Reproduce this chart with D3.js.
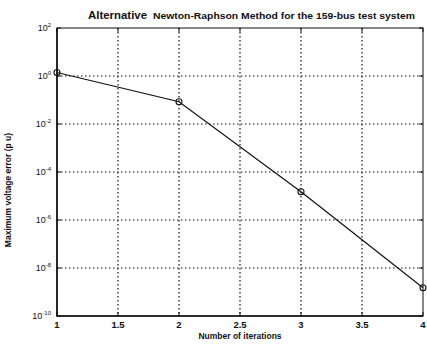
<!DOCTYPE html>
<html>
<head>
<meta charset="utf-8">
<script src="https://cdn.jsdelivr.net/npm/d3@7"></script>
<style>
  html, body { margin: 0; padding: 0; background: #fff; }
  svg { display: block; font-family: "Liberation Sans", Arial, sans-serif; }
</style>
</head>
<body>
<svg id="chart" width="427" height="344"></svg>
<script>
// Convergence of the alternative Newton-Raphson solver, 159-bus system
const iterations = [1, 2, 3, 4];
const maxError = [1.4, 0.085, 1.5e-5, 1.5e-9];
const xTicks = [1, 1.5, 2, 2.5, 3, 3.5, 4];
const xTickLabels = ["1", "1.5", "2", "2.5", "3", "3.5", "4"];
const yExponents = [2, 0, -2, -4, -6, -8, -10];

const svg = d3.select("#chart");
const margin = { left: 57, right: 4, top: 28, bottom: 28 };
const W = 427, H = 344;

const x = d3.scaleLinear().domain([1, 4]).range([margin.left, W - margin.right]);
const y = d3.scaleLog().domain([1e-10, 1e2]).range([H - margin.bottom, margin.top]);

const ink = "#111";

// grid
const grid = svg.append("g").attr("stroke", ink).attr("stroke-width", 1.2)
  .attr("stroke-dasharray", "1.5,2.5");
xTicks.slice(1, -1).forEach(t => {
  grid.append("line").attr("x1", x(t)).attr("x2", x(t))
    .attr("y1", y.range()[1]).attr("y2", y.range()[0]);
});
yExponents.slice(1, -1).forEach(e => {
  grid.append("line").attr("y1", y(Math.pow(10, e))).attr("y2", y(Math.pow(10, e)))
    .attr("x1", x.range()[0]).attr("x2", x.range()[1]);
});

// frame
svg.append("rect")
  .attr("x", x.range()[0]).attr("y", y.range()[1])
  .attr("width", x.range()[1] - x.range()[0])
  .attr("height", y.range()[0] - y.range()[1])
  .attr("fill", "none").attr("stroke", ink).attr("stroke-width", 1);
svg.append("path")
  .attr("d", `M${x.range()[0]},${y.range()[1]}V${y.range()[0]}H${x.range()[1]}`)
  .attr("fill", "none").attr("stroke", ink).attr("stroke-width", 1.6);

// inward ticks
const ticks = svg.append("g").attr("stroke", ink).attr("stroke-width", 1);
xTicks.forEach(t => {
  ticks.append("line").attr("x1", x(t)).attr("x2", x(t))
    .attr("y1", y.range()[0]).attr("y2", y.range()[0] - 4);
  ticks.append("line").attr("x1", x(t)).attr("x2", x(t))
    .attr("y1", y.range()[1]).attr("y2", y.range()[1] + 4);
});
yExponents.forEach(e => {
  const yy = y(Math.pow(10, e));
  ticks.append("line").attr("x1", x.range()[0]).attr("x2", x.range()[0] + 4)
    .attr("y1", yy).attr("y2", yy);
  ticks.append("line").attr("x1", x.range()[1]).attr("x2", x.range()[1] - 4)
    .attr("y1", yy).attr("y2", yy);
});

// x tick labels
svg.append("g").selectAll("text").data(xTicks).join("text")
  .attr("x", d => x(d)).attr("y", y.range()[0] + 12)
  .attr("text-anchor", "middle").attr("font-size", 9.5).attr("font-weight", "bold")
  .attr("fill", ink)
  .text((d, i) => xTickLabels[i]);

// y tick labels: 10 with superscript exponent
const yl = svg.append("g").selectAll("text").data(yExponents).join("text")
  .attr("x", x.range()[0] - 6).attr("y", d => y(Math.pow(10, d)) + 3)
  .attr("text-anchor", "end").attr("font-size", 9).attr("fill", ink);
yl.append("tspan").text("10");
yl.append("tspan").attr("dy", -4).attr("font-size", 6).text(d => String(d));

// data line and markers
const line = d3.line().x((d, i) => x(iterations[i])).y(d => y(d));
svg.append("path").datum(maxError)
  .attr("d", line).attr("fill", "none").attr("stroke", ink).attr("stroke-width", 1.2);
svg.append("g").selectAll("circle").data(maxError).join("circle")
  .attr("cx", (d, i) => x(iterations[i])).attr("cy", d => y(d)).attr("r", 3)
  .attr("fill", "none").attr("stroke", ink).attr("stroke-width", 1.1);

// title
svg.append("text").attr("x", 88).attr("y", 19).attr("fill", ink)
  .attr("font-size", 11).attr("font-weight", "bold")
  .attr("textLength", 59).attr("lengthAdjust", "spacingAndGlyphs")
  .text("Alternative");
svg.append("text").attr("x", 153).attr("y", 19).attr("fill", ink)
  .attr("font-size", 8.5).attr("font-weight", "bold")
  .attr("textLength", 262).attr("lengthAdjust", "spacingAndGlyphs")
  .text("Newton-Raphson Method for the 159-bus test system");

// axis labels
svg.append("text").attr("x", 240).attr("y", 339)
  .attr("text-anchor", "middle").attr("font-size", 8.5).attr("font-weight", "bold")
  .attr("fill", ink).text("Number of iterations");
svg.append("text")
  .attr("transform", `translate(11,${190}) rotate(-90)`)
  .attr("text-anchor", "middle").attr("font-size", 8.5).attr("font-weight", "bold")
  .attr("fill", ink).text("Maximum voltage error (p u)");
</script>
</body>
</html>
